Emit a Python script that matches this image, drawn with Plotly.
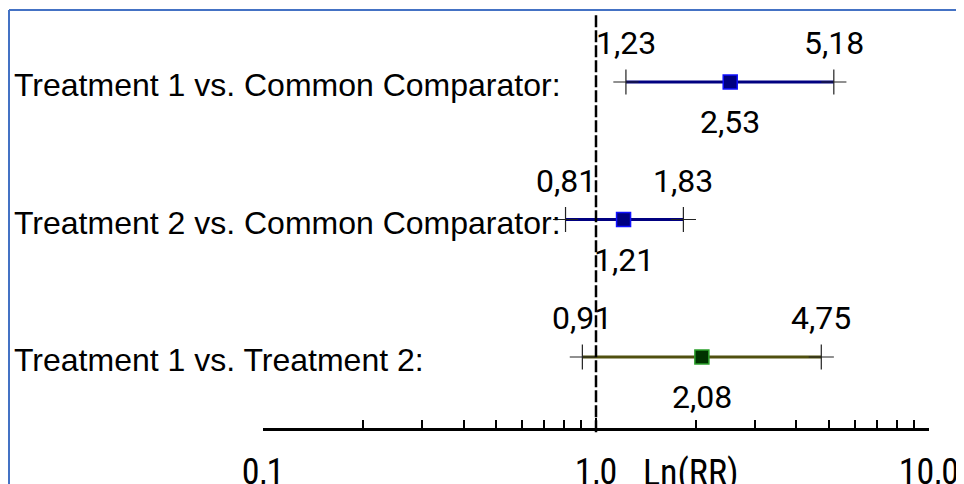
import numpy as np
import plotly.graph_objects as go

# ---- data ----
comparisons = [
    "Treatment 1 vs. Common Comparator:",
    "Treatment 2 vs. Common Comparator:",
    "Treatment 1 vs. Treatment 2:",
]
rr_point = [2.53, 1.21, 2.08]
rr_lower = [1.23, 0.81, 0.91]
rr_upper = [5.18, 1.83, 4.75]
point_labels = ["2,53", "1,21", "2,08"]
lower_labels = ["1,23", "0,81", "0,91"]
upper_labels = ["5,18", "1,83", "4,75"]

major_tickvals = [0.1, 1.0, 10.0]
major_ticktext = ["0,1", "1,0", "10,0"]
minor_tickvals = [0.2, 0.3, 0.4, 0.5, 0.6, 0.7, 0.8, 0.9,
                  2, 3, 4, 5, 6, 7, 8, 9]
axis_title = "Ln(RR)"

# ---- styles ----
line_colors = ["#000080", "#000080", "#50500f"]
marker_fill = ["#000080", "#000080", "#003300"]
marker_edge = ["#1010ff", "#1010ff", "#2aa02a"]
LABEL_FONT = "Liberation Sans, Arial, sans-serif"
NUM_FONT = "Roboto, Liberation Sans, sans-serif"
TICK_FONT = "Liberation Sans Narrow, Roboto Condensed, DejaVu Sans Condensed, Roboto, sans-serif"

W, H = 956, 476          # figure sits inside the page's 8px body margin
L, R, T, B = 255, 35, 2, 56
PW = W - L - R           # plot width in px

fig = go.Figure()

for i, name in enumerate(comparisons):
    fig.add_trace(go.Scatter(
        x=[rr_lower[i], rr_upper[i]], y=[name, name], mode="lines",
        line=dict(color=line_colors[i], width=3), hoverinfo="skip",
        showlegend=False))
    fig.add_trace(go.Scatter(
        x=[rr_lower[i], rr_upper[i]], y=[name, name], mode="markers",
        marker=dict(symbol="cross-thin", size=18,
                    line=dict(color="#222222", width=1.2)),
        hoverinfo="skip", showlegend=False))
    fig.add_trace(go.Scatter(
        x=[rr_point[i]], y=[name], mode="markers",
        marker=dict(symbol="square", size=14, color=marker_fill[i],
                    line=dict(color=marker_edge[i], width=1.5)),
        hoverinfo="skip", showlegend=False))

annotations = []
for i, name in enumerate(comparisons):
    annotations.append(dict(
        x=np.log10(rr_lower[i]), y=name, xref="x", yref="y",
        text=lower_labels[i], showarrow=False, yshift=39,
        font=dict(family=NUM_FONT, size=32, color="black")))
    annotations.append(dict(
        x=np.log10(rr_upper[i]), y=name, xref="x", yref="y",
        text=upper_labels[i], showarrow=False, yshift=39,
        font=dict(family=NUM_FONT, size=32, color="black")))
    annotations.append(dict(
        x=np.log10(rr_point[i]), y=name, xref="x", yref="y",
        text=point_labels[i], showarrow=False, yshift=-40,
        font=dict(family=NUM_FONT, size=32, color="black")))
    annotations.append(dict(
        x=(4 - L) / PW, y=name, xref="paper", yref="y",
        xanchor="left", text=name, showarrow=False, yshift=-3,
        font=dict(family=LABEL_FONT, size=32, color="black")))

annotations.append(dict(
    x=(633 - L) / PW, y=0, xref="paper", yref="paper",
    xanchor="left", yanchor="top", yshift=-22, text=axis_title,
    showarrow=False, font=dict(family=TICK_FONT, size=36, color="black")))

shapes = [
    # dashed reference line at RR = 1
    dict(type="line", xref="x", yref="paper", x0=1, x1=1, y0=-0.01, y1=0.993,
         line=dict(color="black", width=2.5, dash="12px,3px"), layer="above"),
    # blue frame (top and left edges)
    dict(type="line", xref="paper", yref="paper", x0=(1 - L) / PW,
         x1=(W - L) / PW, y0=1.0, y1=1.0,
         line=dict(color="#4472C4", width=2)),
    dict(type="line", xref="paper", yref="paper", x0=(1 - L) / PW,
         x1=(1 - L) / PW, y0=1.0, y1=-B / (H - T - B),
         line=dict(color="#4472C4", width=2)),
]

fig.update_layout(
    width=W, height=H,
    margin=dict(l=L, r=R, t=T, b=B, autoexpand=False),
    paper_bgcolor="white", plot_bgcolor="white",
    showlegend=False,
    annotations=annotations, shapes=shapes,
    xaxis=dict(
        type="log", range=[-1.0002, 1.0002], automargin=False,
        tickvals=major_tickvals, ticktext=major_ticktext,
        ticks="inside", ticklen=10, tickwidth=2, tickcolor="black",
        showline=True, linecolor="black", linewidth=2.5,
        showgrid=False, zeroline=False,
        ticklabelstandoff=10,
        tickfont=dict(family=TICK_FONT, size=36, color="black"),
        minor=dict(tickvals=minor_tickvals, ticks="inside", ticklen=8,
                   tickwidth=2, tickcolor="black", showgrid=False),
    ),
    yaxis=dict(
        type="category", categoryorder="array", categoryarray=comparisons,
        range=[2 + 71 / 137.5, -72 / 137.5], automargin=False,
        showticklabels=False, ticks="", showline=False,
        showgrid=False, zeroline=False,
    ),
)

fig.write_html("out.html", config={"displayModeBar": False})
